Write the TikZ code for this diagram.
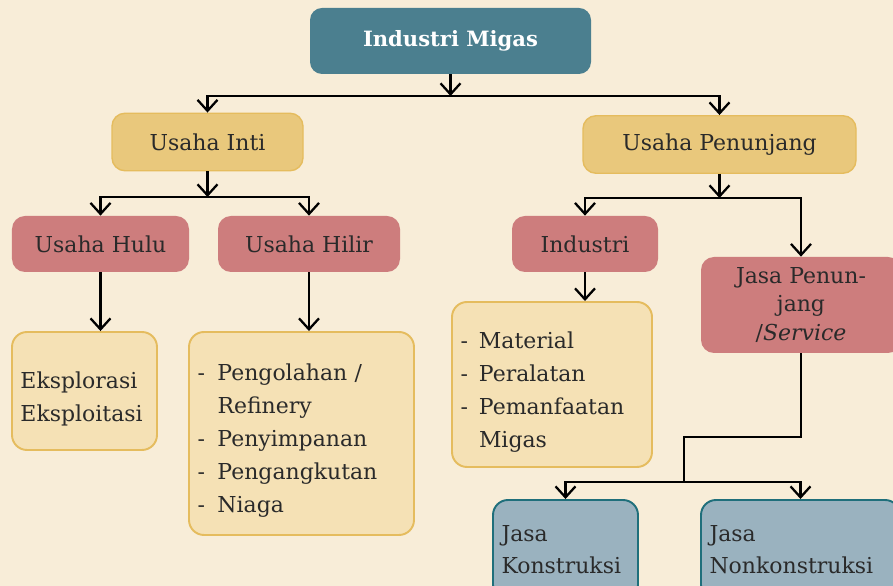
\documentclass[tikz,border=0pt]{standalone}
\usepackage{fontspec}
\setmainfont{DejaVu Serif}
\usetikzlibrary{arrows.meta}
\definecolor{bgc}{HTML}{F8EDD8}
\definecolor{tealc}{HTML}{4B7F8F}
\definecolor{goldc}{HTML}{E9C87C}
\definecolor{goldd}{HTML}{E5BC5E}
\definecolor{rosec}{HTML}{CD7D7D}
\definecolor{creamc}{HTML}{F5E1B5}
\definecolor{greyc}{HTML}{9AB2BF}
\definecolor{tealdc}{HTML}{1F6F7B}
\definecolor{inkc}{HTML}{2A2A2A}

\begin{document}
\begin{tikzpicture}[every node/.style={font=\fontsize{12.5}{18.8}\selectfont, text=inkc},
	hd/.style={fill=tealc, rounded corners=0.24cm, minimum width=5.62cm, minimum height=1.32cm, text=white, font=\fontsize{12}{14}\selectfont\bfseries},
	mb/.style={fill=goldc, draw=goldd, line width=0.8pt, rounded corners=0.26cm, minimum height=1.15cm},
	sb/.style={fill=rosec, rounded corners=0.26cm, minimum height=1.12cm},
	lb/.style={fill=creamc, draw=goldd, line width=1.1pt, rounded corners=0.3cm, align=left, inner xsep=0.17cm},
	jb/.style={fill=greyc, draw=tealdc, line width=1.1pt, rounded corners=0.3cm, align=left, inner xsep=0.17cm, font=\fontsize{12.5}{18.2}\selectfont},
	ar/.style={line width=1.3pt, -{Straight Barb[length=0.22cm, width=0.4cm]}}]
	\useasboundingbox (0,0) rectangle (17.86,11.72);
	\fill[bgc] (0,0) rectangle (17.86,11.72);
	\node[hd] (mig) at (9.01,10.90) {Industri Migas};
	\node[mb, minimum width=3.82cm] (inti) at (4.15,8.88) {Usaha Inti};
	\node[mb, minimum width=5.46cm] (pen) at (14.39,8.83) {Usaha Penunjang};
	\node[sb, minimum width=3.54cm] (hulu) at (2.01,6.84) {Usaha Hulu};
	\node[sb, minimum width=3.64cm] (hilir) at (6.18,6.84) {Usaha Hilir};
	\node[sb, minimum width=2.92cm] (ind) at (11.70,6.84) {Industri};
	\node[sb, minimum width=4cm, minimum height=1.92cm, align=center, font=\fontsize{12.5}{16.2}\selectfont] (jasa) at (16.02,5.62) {Jasa Penun-\\jang\\/\textit{Service}};
	\node[lb, text width=2.56cm, minimum height=2.36cm] (eks) at (1.69,3.90) {\raisebox{-0.14cm}[\height][\depth]{\begin{tabular}{@{}l@{}}Eksplorasi\\Eksploitasi\end{tabular}}};
	\node[lb, text width=4.16cm, minimum height=4.06cm] (hlist) at (6.03,3.05) {\raisebox{-0.13cm}[\height][\depth]{\begin{tabular}{@{}p{0.4cm}@{}l@{}}-&Pengolahan /\\&Refinery\\-&Penyimpanan\\-&Pengangkutan\\-&Niaga\end{tabular}}};
	\node[lb, text width=3.66cm, minimum height=3.30cm] (mlist) at (11.04,4.03) {\raisebox{-0.13cm}[\height][\depth]{\begin{tabular}{@{}p{0.37cm}@{}l@{}}-&Material\\-&Peralatan\\-&Pemanfaatan\\&Migas\end{tabular}}};
	\node[jb, text width=2.56cm, minimum height=2cm] (kons) at (11.31,0.72) {Jasa\\Konstruksi};
	\node[jb, text width=3.64cm, minimum height=2cm] (nonkons) at (16.01,0.72) {Jasa\\Nonkonstruksi};
	\coordinate (j1) at (9.01,9.80);
	\coordinate (j2) at (4.15,7.78);
	\coordinate (j3) at (14.39,7.76);
	\coordinate (j4) at (13.68,2.98);
	\coordinate (j5) at (13.68,2.08);
	\draw[ar] (mig) -- (j1);
	\draw[ar] (j1) -| (inti);
	\draw[ar] (j1) -| (pen);
	\draw[ar] (inti) -- (j2);
	\draw[ar] (j2) -| (hulu);
	\draw[ar] (j2) -| (hilir);
	\draw[ar] (pen) -- (j3);
	\draw[ar] (j3) -| (ind);
	\draw[ar] (j3) -| (jasa);
	\draw[ar] (hulu) -- (hulu.south |- eks.north);
	\draw[ar] (hilir) -- (hilir.south |- hlist.north);
	\draw[ar] (ind) -- (ind.south |- mlist.north);
	\draw[line width=1.3pt] (jasa) |- (j4) -- (j5);
	\draw[ar] (j5) -| (kons);
	\draw[ar] (j5) -| (nonkons);
\end{tikzpicture}
\end{document}
